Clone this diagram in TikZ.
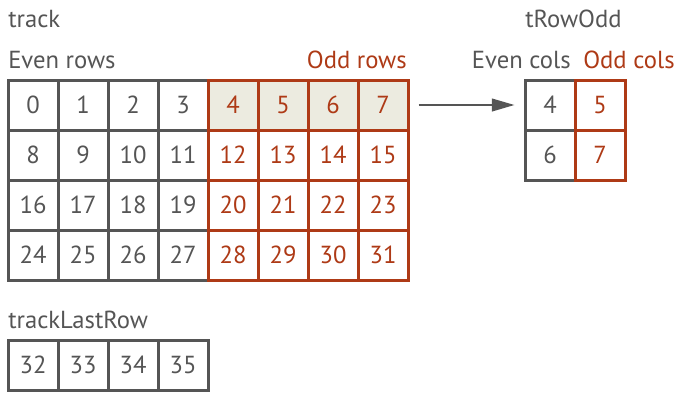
\documentclass[tikz,border=0pt]{standalone}
\usepackage{fontspec}
\setmainfont{PT Sans}
\usetikzlibrary{arrows.meta,positioning}
\definecolor{gridgrey}{HTML}{555555}
\definecolor{oddred}{HTML}{AE3A16}
\definecolor{oddfill}{HTML}{ECEBE0}

\tikzset{
  evencell/.style={draw=gridgrey, line width=2.25pt, minimum width=37.5pt, minimum height=37.5pt,
    inner sep=0pt, text=gridgrey, font=\fontsize{18.5}{22}\selectfont},
  oddcell/.style={evencell, draw=oddred, text=oddred},
  titletext/.style={inner sep=0pt, text=gridgrey, font=\fontsize{18.5}{22}\selectfont},
  oddtext/.style={titletext, text=oddred},
  arrow/.style={draw=gridgrey, line width=1.5pt, -{Triangle[length=17pt, width=9.5pt]},
    shorten <=6.75pt, shorten >=6.75pt}
}

\begin{document}
\begin{tikzpicture}[x=0.75pt, y=-0.75pt]
    \useasboundingbox (0,0) rectangle (678,393);

    % Titles
    \node[titletext, anchor=base west] (track) at (8,27) {track};
    \node[titletext, anchor=base west] (even) at (8,68) {Even rows};
    \node[oddtext, anchor=base east] (odd) at (407,68) {Odd rows};
    \node[titletext, anchor=base west] (trow) at (525,27) {tRowOdd};
    \node[titletext, anchor=base east] (evencols) at (571,68) {Even cols};
    \node[oddtext, anchor=base west] (oddcols) at (583,68) {Odd cols};
    \node[titletext, anchor=base west] (lastrow) at (8,328) {trackLastRow};

    % Grid track, even part
    \foreach \r in {0,...,3}
      \foreach \c in {0,...,3} {
        \pgfmathtruncatemacro{\n}{8*\r+\c}
        \node[evencell] (c\n) at ({33+50*\c},{105+50*\r}) {\n};
      }
    % Grid track, odd part
    \foreach \r/\f in {0/oddfill,1/white,2/white,3/white}
      \foreach \c in {4,...,7} {
        \pgfmathtruncatemacro{\n}{8*\r+\c}
        \node[oddcell, fill=\f] (c\n) at ({33+50*\c},{105+50*\r}) {\n};
      }

    % Last row
    \foreach \c in {0,...,3} {
      \pgfmathtruncatemacro{\n}{32+\c}
      \node[evencell] (c\n) at ({33+50*\c},365) {\n};
    }

    % tRowOdd
    \node[evencell] (t4) at (550,105) {4};
    \node[evencell] (t6) at (550,155) {6};
    \node[oddcell] (t5) at (600,105) {5};
    \node[oddcell] (t7) at (600,155) {7};

    \draw[arrow] (c7) -- (t4);
\end{tikzpicture}
\end{document}
